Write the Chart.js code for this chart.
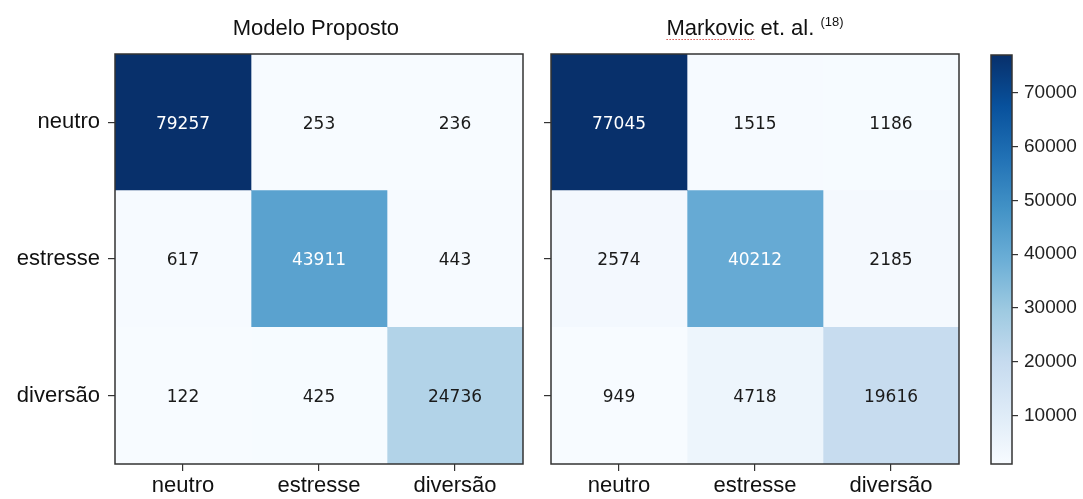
<!DOCTYPE html>
<html>
<head>
<meta charset="utf-8">
<script src="https://cdn.jsdelivr.net/npm/chart.js@4.4.0/dist/chart.umd.min.js"></script>
<style>
  html, body { margin:0; padding:0; background:#fff; }
  #wrap { position:relative; width:1083px; height:499px; overflow:hidden; }
  canvas { position:absolute; top:0; }
</style>
</head>
<body>
<div id="wrap">
  <div style="position:absolute;left:0;top:0;width:540px;height:499px"><canvas id="c1"></canvas></div>
  <div style="position:absolute;left:540px;top:0;width:440px;height:499px"><canvas id="c2"></canvas></div>
  <div style="position:absolute;left:980px;top:0;width:103px;height:499px"><canvas id="c3"></canvas></div>
</div>
<script>
// ---------- data ----------
const categories = ['neutro', 'estresse', 'diversão'];
const modeloProposto = [
  [79257, 253, 236],
  [617, 43911, 443],
  [122, 425, 24736]
];
const markovic = [
  [77045, 1515, 1186],
  [2574, 40212, 2185],
  [949, 4718, 19616]
];
const colorbarTicks = [10000, 20000, 30000, 40000, 50000, 60000, 70000];
const titleLeft = 'Modelo Proposto';
const titleRight = 'Markovic et. al.';
const titleRightSup = '(18)';

// ---------- colormap (matplotlib "Blues") ----------
const bluesStops = ['#f7fbff','#deebf7','#c6dbef','#9ecae1','#6baed6','#4292c6','#2171b5','#08519c','#08306b'];
function hexToRgb(h){ return [parseInt(h.slice(1,3),16), parseInt(h.slice(3,5),16), parseInt(h.slice(5,7),16)]; }
function blues(t){
  t = Math.max(0, Math.min(1, t));
  const p = t * (bluesStops.length - 1);
  const i = Math.min(Math.floor(p), bluesStops.length - 2);
  const f = p - i;
  const a = hexToRgb(bluesStops[i]), b = hexToRgb(bluesStops[i+1]);
  const c = a.map((v,k)=>Math.round(v + (b[k]-v)*f));
  return `rgb(${c[0]},${c[1]},${c[2]})`;
}

const FONT = "'Liberation Sans', Arial, sans-serif";
const NUMFONT = "'DejaVu Sans', sans-serif";

const framePlugin = {
  id: 'frame',
  afterDraw(chart) {
    const a = chart.chartArea, ctx = chart.ctx;
    ctx.save();
    ctx.strokeStyle = '#333';
    ctx.lineWidth = 1.5;
    ctx.strokeRect(a.left, a.top, a.right - a.left, a.bottom - a.top);
    ctx.restore();
  }
};

const cellLabelPlugin = {
  id: 'cellLabels',
  afterDatasetsDraw(chart) {
    const ctx = chart.ctx;
    const m = chart.$matrix;
    if (!m) return;
    const vals = m.values.flat();
    const thresh = (Math.max(...vals) + Math.min(...vals)) / 2;
    ctx.save();
    ctx.font = `17px ${NUMFONT}`;
    ctx.textAlign = 'center';
    ctx.textBaseline = 'middle';
    chart.data.datasets.forEach((ds, j) => {
      chart.getDatasetMeta(j).data.forEach((el, i) => {
        const v = m.values[i][j];
        const c = el.getCenterPoint();
        ctx.fillStyle = v > thresh ? '#ffffff' : '#1a1a1a';
        ctx.fillText(String(v), c.x, c.y + 2);
      });
    });
    ctx.restore();
  }
};

const titlePlugin = {
  id: 'ptitle',
  afterDraw(chart) {
    const t = chart.$title;
    if (!t) return;
    const ctx = chart.ctx, a = chart.chartArea;
    const cx = (a.left + a.right) / 2;
    const baseY = 35;
    ctx.save();
    ctx.fillStyle = '#111';
    ctx.textBaseline = 'alphabetic';
    ctx.textAlign = 'left';
    ctx.font = `22px ${FONT}`;
    const mainW = ctx.measureText(t.main + ' ').width;
    let supW = 0;
    if (t.sup) { ctx.font = `13px ${FONT}`; supW = ctx.measureText(t.sup).width; }
    const x0 = cx - (mainW + supW) / 2;
    ctx.font = `22px ${FONT}`;
    ctx.fillText(t.main, x0, baseY);
    if (t.underline) {
      const w = ctx.measureText(t.underline).width;
      ctx.strokeStyle = '#d9534f';
      ctx.lineWidth = 1;
      ctx.setLineDash([1.5, 1.5]);
      ctx.beginPath();
      ctx.moveTo(x0, baseY + 4.5);
      ctx.lineTo(x0 + w, baseY + 4.5);
      ctx.stroke();
      ctx.setLineDash([]);
    }
    if (t.sup) {
      ctx.font = `13px ${FONT}`;
      ctx.fillText(t.sup, x0 + mainW, baseY - 9);
    }
    ctx.restore();
  }
};

function makeHeatmap(id, values, opts) {
  const flat = values.flat();
  const vmin = Math.min(...flat), vmax = Math.max(...flat);
  const datasets = categories.map((colName, j) => ({
    label: colName,
    data: categories.map(() => 1),
    backgroundColor: values.map(row => blues((row[j] - vmin) / (vmax - vmin))),
    borderWidth: 0,
    barPercentage: 1,
    categoryPercentage: 1,
    stack: 's'
  }));
  const chart = new Chart(document.getElementById(id), {
    type: 'bar',
    data: { labels: categories, datasets },
    options: {
      indexAxis: 'y',
      responsive: true,
      maintainAspectRatio: false,
      animation: false,
      layout: { padding: { top: 54, right: opts.padRight, left: 0, bottom: 0 } },
      plugins: { legend: { display: false }, tooltip: { enabled: false }, title: { display: false } },
      scales: {
        x: {
          type: 'linear', stacked: true, min: 0, max: categories.length,
          afterBuildTicks(s) { s.ticks = categories.map((_, k) => ({ value: k + 0.5 })); },
          afterFit(s) { s.height = 35; },
          ticks: {
            callback: (v, k) => categories[k],
            font: { family: FONT, size: 22 }, color: '#111', padding: 2, maxRotation: 0, autoSkip: false
          },
          grid: { display: true, drawOnChartArea: false, drawTicks: true, tickLength: 7, color: '#333', lineWidth: 1.2 },
          border: { display: false }
        },
        y: {
          type: 'category', stacked: true,
          afterFit(s) { s.width = opts.yWidth; },
          ticks: {
            callback: (v, k) => opts.showY ? categories[k] : '',
            font: { family: FONT, size: 22 }, color: '#111', padding: 8
          },
          grid: { display: true, offset: false, drawOnChartArea: false, drawTicks: true, tickLength: 7, color: '#333', lineWidth: 1.2 },
          border: { display: false }
        }
      }
    },
    plugins: [cellLabelPlugin, framePlugin, titlePlugin]
  });
  chart.$matrix = { values };
  chart.$title = opts.title;
  chart.draw();
  return chart;
}

makeHeatmap('c1', modeloProposto, { padRight: 17, yWidth: 115, showY: true, title: { main: titleLeft } });
makeHeatmap('c2', markovic, { padRight: 21, yWidth: 11, showY: false, title: { main: titleRight, sup: titleRightSup, underline: 'Markovic' } });

// ---------- colorbar (scaled to last image, as matplotlib does) ----------
const cbFlat = markovic.flat();
const cbMin = Math.min(...cbFlat), cbMax = Math.max(...cbFlat);
new Chart(document.getElementById('c3'), {
  type: 'bar',
  data: {
    labels: ['cb'],
    datasets: [{
      data: [[cbMin, cbMax]],
      borderWidth: 0,
      barPercentage: 1,
      categoryPercentage: 1,
      backgroundColor(ctx) {
        const a = ctx.chart.chartArea;
        if (!a) return '#6baed6';
        const g = ctx.chart.ctx.createLinearGradient(0, a.bottom, 0, a.top);
        bluesStops.forEach((c, k) => g.addColorStop(k / (bluesStops.length - 1), c));
        return g;
      }
    }]
  },
  options: {
    responsive: true,
    maintainAspectRatio: false,
    animation: false,
    layout: { padding: { top: 55, left: 11, bottom: 35, right: 0 } },
    plugins: { legend: { display: false }, tooltip: { enabled: false } },
    scales: {
      x: { display: false },
      y: {
        type: 'linear', position: 'right', min: cbMin, max: cbMax,
        afterBuildTicks(s) { s.ticks = colorbarTicks.map(v => ({ value: v })); },
        afterFit(s) { s.width = 71; },
        ticks: { callback: v => String(v), font: { family: FONT, size: 19 }, color: '#222', padding: 6 },
        grid: { display: true, drawOnChartArea: false, drawTicks: true, tickLength: 6, color: '#333', lineWidth: 1.2 },
        border: { display: false }
      }
    }
  },
  plugins: [framePlugin]
});
</script>
</body>
</html>
